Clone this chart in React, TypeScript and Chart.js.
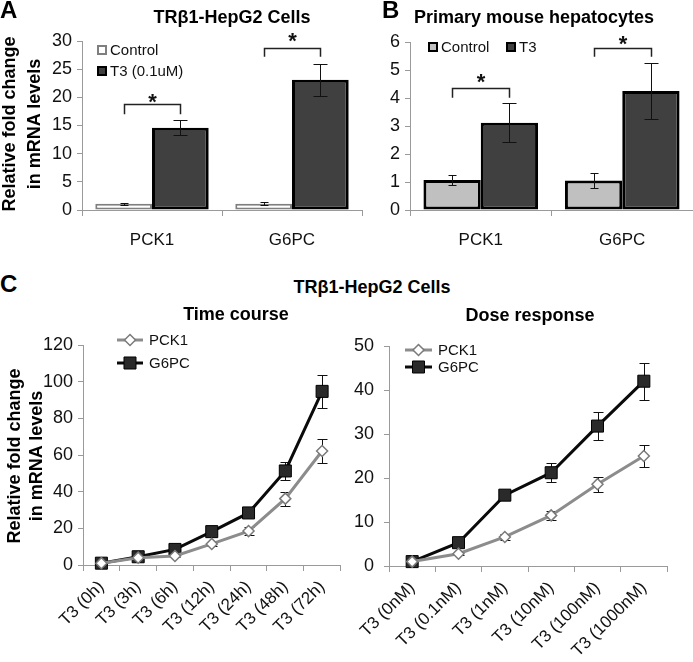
import React, { useEffect, useRef } from "react";
import { Chart, registerables } from "chart.js";

Chart.register(...registerables);

const FONT = "'Liberation Sans', Arial, Helvetica, sans-serif";
const AXIS = "#9a9a9a";
const INK = "#111111";

// ---------- Panel A : TRβ1-HepG2 cells ----------
const barCategories = ["PCK1", "G6PC"];
const aControl = [1.1, 1.1];
const aControlErr = [0.15, 0.3];
const aT3 = [14.6, 23.1];
const aT3Err = [1.3, 2.8];
const aBracketTop = [18.8, 28.8];
const aBracketDrop = [17.0, 27.2];
const aStar = [20.2, 31.0];

// ---------- Panel B : primary mouse hepatocytes ----------
const bControl = [1.07, 1.05];
const bControlErr = [0.17, 0.26];
const bT3 = [3.12, 4.25];
const bT3Err = [0.69, 0.99];
const bBracketTop = [4.36, 5.79];
const bBracketDrop = [4.01, 5.47];
const bStar = [4.78, 6.15];

// ---------- Panel C : time course ----------
const timeLabels = ["T3 (0h)", "T3 (3h)", "T3 (6h)", "T3 (12h)", "T3 (24h)", "T3 (48h)", "T3 (72h)"];
const timePCK1 = [1, 4, 4.9, 11.5, 18.5, 36.2, 62.2];
const timePCK1Err = [0.3, 0.5, 0.8, 1.2, 2.0, 3.8, 6.3];
const timeG6PC = [1, 4.5, 8.5, 18.2, 28.4, 51.3, 94.7];
const timeG6PCErr = [0.3, 0.6, 1.0, 1.5, 1.8, 4.8, 9.2];

// ---------- Panel C : dose response ----------
const doseLabels = ["T3 (0nM)", "T3 (0.1nM)", "T3 (1nM)", "T3 (10nM)", "T3 (100nM)", "T3 (1000nM)"];
const dosePCK1 = [1, 2.8, 6.6, 11.5, 18.6, 25.0];
const dosePCK1Err = [0.2, 0.4, 0.6, 1.0, 1.7, 2.5];
const doseG6PC = [1, 5.3, 16.1, 21.2, 31.8, 42.0];
const doseG6PCErr = [0.2, 0.5, 1.2, 2.1, 3.2, 4.2];

// ---------- plugins ----------
function drawErrors(chart: any, opts: any) {
  const ctx = chart.ctx;
  const y = chart.scales.y;
  chart.data.datasets.forEach((ds: any, i: number) => {
    if (!ds.errors) return;
    const meta = chart.getDatasetMeta(i);
    const cap = ds.capHalf || 5;
    meta.data.forEach((el: any, j: number) => {
      const v = ds.data[j];
      const e = ds.errors[j];
      const x = Math.round(el.x) + 0.5;
      const yt = Math.round(y.getPixelForValue(v + e)) + 0.5;
      const yb = Math.round(y.getPixelForValue(v - e)) + 0.5;
      ctx.save();
      ctx.strokeStyle = opts.color || "#000";
      ctx.lineWidth = opts.width || 1;
      ctx.beginPath();
      ctx.moveTo(x, yt);
      ctx.lineTo(x, yb);
      ctx.moveTo(x - cap, yt);
      ctx.lineTo(x + cap, yt);
      ctx.moveTo(x - cap, yb);
      ctx.lineTo(x + cap, yb);
      ctx.stroke();
      ctx.restore();
    });
  });
}

const errorBars = {
  id: "errorBars",
  beforeDatasetsDraw(chart: any, _a: any, opts: any) {
    if (opts && opts.under) drawErrors(chart, opts);
  },
  afterDatasetsDraw(chart: any, _a: any, opts: any) {
    if (opts && !opts.under) drawErrors(chart, opts);
  },
};

const sigBrackets = {
  id: "sigBrackets",
  afterDatasetsDraw(chart: any, _a: any, opts: any) {
    if (!opts || !opts.top) return;
    const ctx = chart.ctx;
    const y = chart.scales.y;
    const m0 = chart.getDatasetMeta(0);
    const m1 = chart.getDatasetMeta(1);
    opts.top.forEach((t: number, i: number) => {
      const x0 = Math.round(m0.data[i].x) + 0.5;
      const x1 = Math.round(m1.data[i].x) + 0.5;
      const yt = Math.round(y.getPixelForValue(t)) + 0.5;
      const yd = y.getPixelForValue(opts.drop[i]);
      ctx.save();
      ctx.strokeStyle = "#222";
      ctx.lineWidth = 1.5;
      ctx.beginPath();
      ctx.moveTo(x0, yd);
      ctx.lineTo(x0, yt);
      ctx.lineTo(x1, yt);
      ctx.lineTo(x1, yd);
      ctx.stroke();
      const fs = 22;
      ctx.fillStyle = "#111";
      ctx.font = `bold ${fs}px ${FONT}`;
      ctx.textAlign = "center";
      ctx.textBaseline = "alphabetic";
      ctx.fillText("*", (x0 + x1) / 2, y.getPixelForValue(opts.star[i]) + 0.58 * fs);
      ctx.restore();
    });
  },
};

function drawMarker(ctx: any, style: string, x: number, y: number, r: number) {
  ctx.beginPath();
  if (style === "rectRot") {
    ctx.moveTo(x - r, y);
    ctx.lineTo(x, y - r);
    ctx.lineTo(x + r, y);
    ctx.lineTo(x, y + r);
    ctx.closePath();
  } else {
    const s = Math.SQRT1_2 * r;
    ctx.rect(x - s, y - s, 2 * s, 2 * s);
  }
}

const customLegend = {
  id: "customLegend",
  afterDraw(chart: any, _a: any, opts: any) {
    if (!opts || !opts.items) return;
    const ctx = chart.ctx;
    ctx.save();
    ctx.font = `${opts.fontSize || 15}px ${FONT}`;
    ctx.textBaseline = "middle";
    ctx.textAlign = "left";
    opts.items.forEach((it: any) => {
      const ds = chart.data.datasets[it.ds];
      if (opts.kind === "box") {
        const s = 10;
        ctx.fillStyle = ds.backgroundColor;
        ctx.fillRect(it.x, it.y - s / 2, s, s);
        ctx.strokeStyle = ds.borderColor;
        ctx.lineWidth = 2;
        ctx.strokeRect(it.x + 1, it.y - s / 2 + 1, s - 2, s - 2);
        ctx.fillStyle = INK;
        ctx.fillText(ds.label, it.x + s + 3, it.y + 1);
      } else {
        ctx.strokeStyle = ds.borderColor;
        ctx.lineWidth = ds.borderWidth;
        ctx.beginPath();
        ctx.moveTo(it.x1, it.y);
        ctx.lineTo(it.x2, it.y);
        ctx.stroke();
        drawMarker(ctx, ds.pointStyle, (it.x1 + it.x2) / 2, it.y, ds.pointRadius);
        ctx.fillStyle = ds.pointBackgroundColor;
        ctx.fill();
        ctx.strokeStyle = ds.pointBorderColor;
        ctx.lineWidth = ds.pointBorderWidth;
        ctx.stroke();
        ctx.fillStyle = INK;
        ctx.fillText(ds.label, it.x2 + 6, it.y + 1);
      }
    });
    ctx.restore();
  },
};

// ---------- axes ----------
function yAxis(max: number, step: number, width: number, pad: number) {
  return {
    min: 0,
    max,
    ticks: { stepSize: step, color: INK, font: { family: FONT, size: 18 }, padding: pad },
    grid: { display: true, drawOnChartArea: false, drawTicks: true, tickLength: 5, color: AXIS },
    border: { display: true, color: AXIS, width: 1 },
    afterFit: (s: any) => {
      s.width = width;
    },
  };
}

function xAxis(height: number, fontSize: number, rot: number, pad: number) {
  return {
    type: "category",
    offset: true,
    grid: { display: true, drawOnChartArea: false, drawTicks: true, tickLength: 6, color: AXIS, offset: true },
    border: { display: true, color: AXIS, width: 1 },
    ticks: {
      color: INK,
      font: { family: FONT, size: fontSize },
      padding: pad,
      autoSkip: false,
      maxRotation: rot,
      minRotation: rot,
    },
    afterFit: (s: any) => {
      s.height = height;
    },
  };
}

const basePlugins = { legend: { display: false }, tooltip: { enabled: false }, title: { display: false } };

function barConfig(
  control: number[], controlErr: number[], controlBg: string, controlBorder: string, controlBW: number,
  t3: number[], t3Err: number[], t3Label: string,
  top: number[], drop: number[], star: number[],
  yMax: number, yStep: number, yWidth: number, pad: any, legend: any
) {
  return {
    type: "bar",
    data: {
      labels: barCategories,
      datasets: [
        {
          label: "Control", data: control, errors: controlErr, capHalf: 4,
          backgroundColor: controlBg, borderColor: controlBorder, borderWidth: controlBW, borderSkipped: false,
        },
        {
          label: t3Label, data: t3, errors: t3Err, capHalf: 7,
          backgroundColor: "#404040", borderColor: "#000000", borderWidth: 3, borderSkipped: false,
        },
      ],
    },
    options: {
      responsive: false,
      animation: false,
      devicePixelRatio: 1,
      layout: { padding: pad },
      datasets: { bar: { barPercentage: 1, categoryPercentage: 0.81 } },
      scales: { x: xAxis(52, 17, 0, 14), y: yAxis(yMax, yStep, yWidth, 5) },
      plugins: {
        ...basePlugins,
        errorBars: { under: false, color: "#111", width: 1 },
        sigBrackets: { top, drop, star },
        customLegend: legend,
      },
    },
    plugins: [errorBars, sigBrackets, customLegend],
  };
}

function lineConfig(
  labels: string[], pck1: number[], pck1Err: number[], g6pc: number[], g6pcErr: number[],
  yMax: number, yStep: number, yWidth: number, yPad: number, xHeight: number, pad: any, legend: any
) {
  return {
    type: "line",
    data: {
      labels,
      datasets: [
        {
          label: "PCK1", data: pck1, errors: pck1Err, capHalf: 5,
          borderColor: "#8c8c8c", borderWidth: 3, tension: 0, clip: false,
          pointStyle: "rectRot", pointRadius: 5.5, pointBackgroundColor: "#ffffff",
          pointBorderColor: "#7a7a7a", pointBorderWidth: 1.5,
        },
        {
          label: "G6PC", data: g6pc, errors: g6pcErr, capHalf: 5,
          borderColor: "#0a0a0a", borderWidth: 3, tension: 0, clip: false,
          pointStyle: "rect", pointRadius: 8.5, pointBackgroundColor: "#2a2a2a",
          pointBorderColor: "#000000", pointBorderWidth: 1,
        },
      ],
    },
    options: {
      responsive: false,
      animation: false,
      devicePixelRatio: 1,
      layout: { padding: pad },
      scales: { x: xAxis(xHeight, 17, 45, 6), y: yAxis(yMax, yStep, yWidth, yPad) },
      plugins: {
        ...basePlugins,
        errorBars: { under: true, color: "#111", width: 1 },
        customLegend: legend,
      },
    },
    plugins: [errorBars, customLegend],
  };
}

function ChartCanvas(props: { make: () => any; left: number; top: number; width: number; height: number }) {
  const ref = useRef<HTMLCanvasElement>(null);
  useEffect(() => {
    const chart = new Chart(ref.current as HTMLCanvasElement, props.make());
    return () => chart.destroy();
  }, []);
  return (
    <canvas
      ref={ref}
      width={props.width}
      height={props.height}
      style={{ position: "absolute", left: props.left, top: props.top, width: props.width, height: props.height }}
    />
  );
}

const txt: any = {
  position: "absolute",
  fontFamily: FONT,
  color: "#000",
  whiteSpace: "nowrap",
  lineHeight: 1,
  fontWeight: "bold",
};

function Centered(p: { x: number; y: number; size: number; children: any }) {
  return (
    <div style={{ ...txt, left: p.x, top: p.y, fontSize: p.size, transform: "translate(-50%, -50%)" }}>{p.children}</div>
  );
}

function YTitle(p: { x: number; y: number; lh: number }) {
  return (
    <div
      style={{
        ...txt,
        left: p.x,
        top: p.y,
        fontSize: 18,
        lineHeight: `${p.lh}px`,
        textAlign: "center",
        transform: "translate(-50%, -50%) rotate(-90deg)",
      }}
    >
      Relative fold change
      <br />
      in mRNA levels
    </div>
  );
}

export default function App() {
  const makeA = () =>
    barConfig(
      aControl, aControlErr, "#ffffff", "#7f7f7f", 2,
      aT3, aT3Err, "T3 (0.1uM)",
      aBracketTop, aBracketDrop, aStar,
      30, 5, 82, { top: 41, right: 3, left: 0, bottom: 0 },
      { kind: "box", fontSize: 15, items: [{ ds: 0, x: 97, y: 50 }, { ds: 1, x: 97, y: 71 }] }
    );
  const makeB = () =>
    barConfig(
      bControl, bControlErr, "#c0c0c0", "#000000", 3,
      bT3, bT3Err, "T3",
      bBracketTop, bBracketDrop, bStar,
      6, 1, 45, { top: 42, right: 0, left: 0, bottom: 0 },
      { kind: "box", fontSize: 15, items: [{ ds: 0, x: 63, y: 47 }, { ds: 1, x: 141, y: 47 }] }
    );
  const makeTime = () =>
    lineConfig(
      timeLabels, timePCK1, timePCK1Err, timeG6PC, timeG6PCErr,
      120, 20, 83, 5, 97, { top: 25, right: 7, left: 0, bottom: 0 },
      { kind: "line", fontSize: 15, items: [{ ds: 0, x1: 117, x2: 143, y: 20 }, { ds: 1, x1: 117, x2: 143, y: 43 }] }
    );
  const makeDose = () =>
    lineConfig(
      doseLabels, dosePCK1, dosePCK1Err, doseG6PC, doseG6PCErr,
      50, 10, 39, 10, 96, { top: 26, right: 26, left: 0, bottom: 0 },
      { kind: "line", fontSize: 15, items: [{ ds: 0, x1: 55, x2: 82, y: 30 }, { ds: 1, x1: 55, x2: 82, y: 47 }] }
    );

  return (
    <div style={{ position: "absolute", left: 0, top: 0, width: 693, height: 662, background: "#fff", overflow: "hidden" }}>
      <ChartCanvas make={makeA} left={0} top={0} width={365} height={262} />
      <ChartCanvas make={makeB} left={365} top={0} width={328} height={262} />
      <ChartCanvas make={makeTime} left={0} top={320} width={350} height={342} />
      <ChartCanvas make={makeDose} left={350} top={320} width={343} height={342} />

      <div style={{ ...txt, left: 0, top: -2, fontSize: 24 }}>A</div>
      <div style={{ ...txt, left: 382, top: -2, fontSize: 24 }}>B</div>
      <div style={{ ...txt, left: 0, top: 272, fontSize: 24 }}>C</div>

      <Centered x={232} y={17} size={18}>TRβ1-HepG2 Cells</Centered>
      <Centered x={534} y={17} size={18}>Primary mouse hepatocytes</Centered>
      <Centered x={372} y={287} size={18}>TRβ1-HepG2 Cells</Centered>
      <Centered x={236} y={314} size={18}>Time course</Centered>
      <Centered x={530} y={315} size={18}>Dose response</Centered>

      <YTitle x={22} y={124} lh={25} />
      <YTitle x={25} y={456} lh={22} />
    </div>
  );
}
